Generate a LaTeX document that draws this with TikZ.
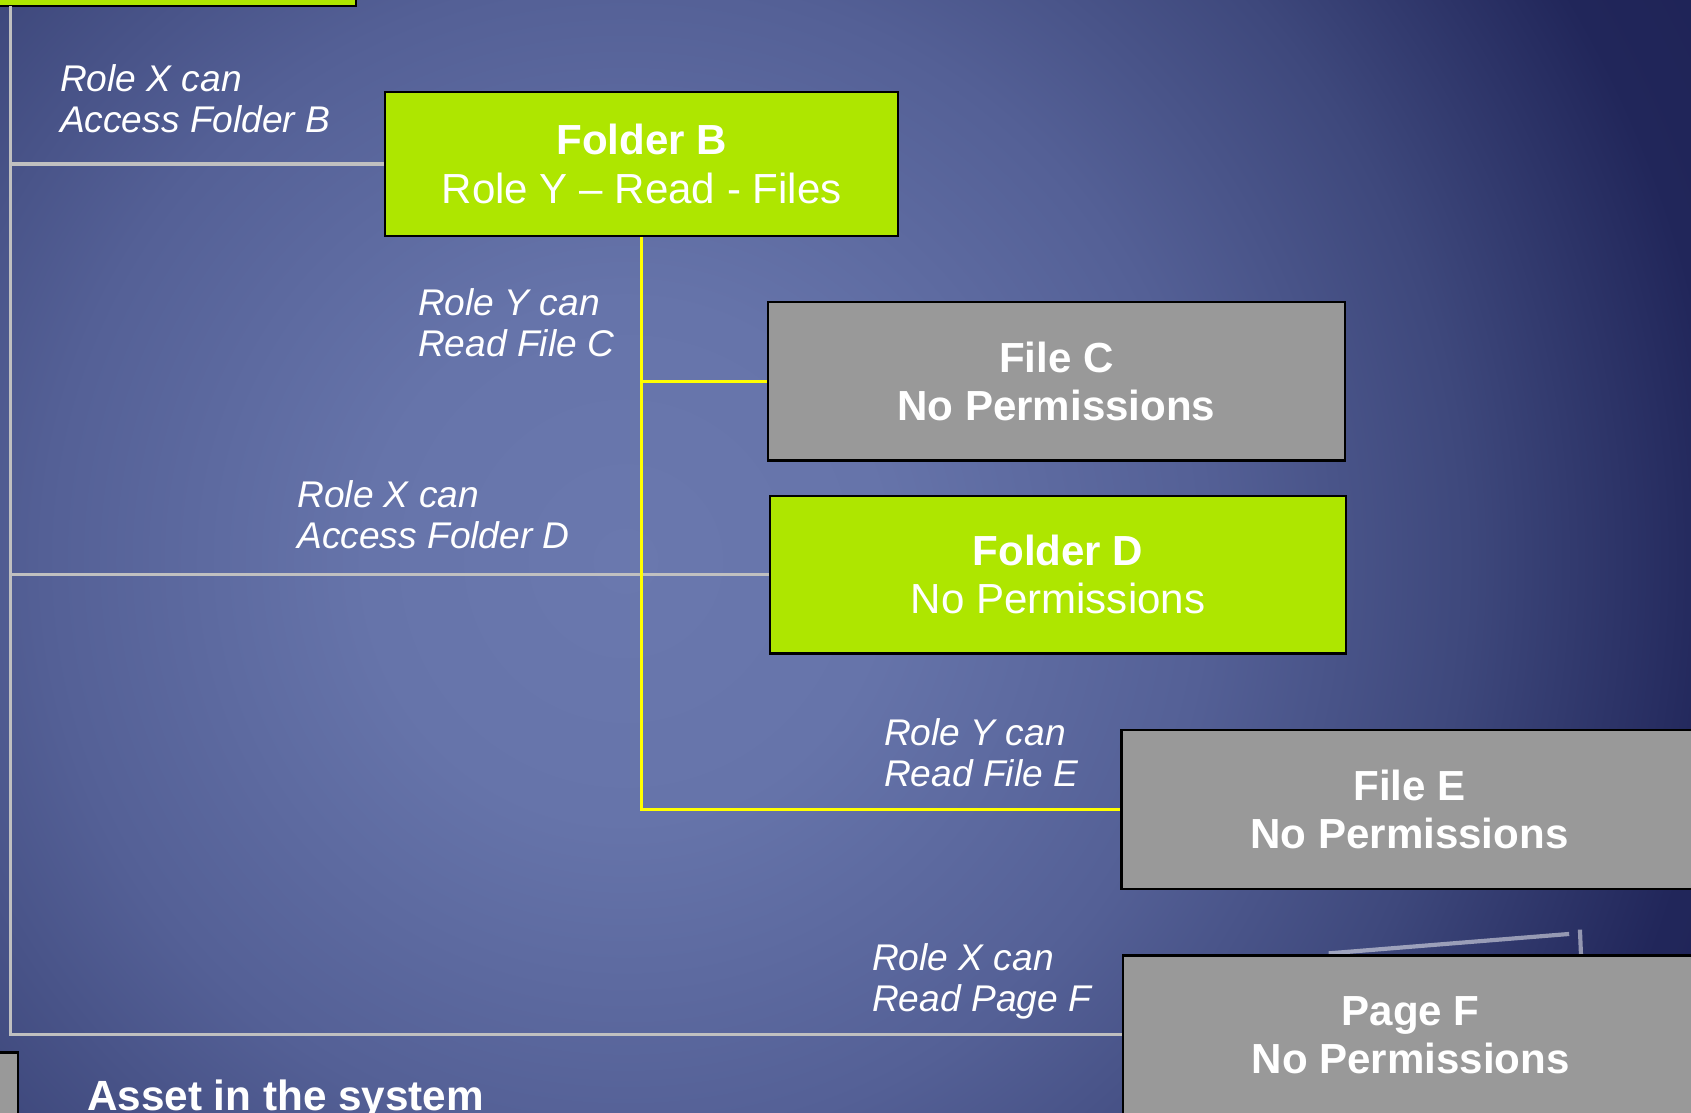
\documentclass[tikz,border=0pt]{standalone}
\usepackage{fontspec}
\setmainfont{Liberation Sans}
\usepackage{xcolor}
\usepackage{tikz}

\definecolor{bglight}{RGB}{106,120,174}
\definecolor{bglighttwo}{RGB}{102,116,170}
\definecolor{bgmid}{RGB}{84,96,150}
\definecolor{bgmidtwo}{RGB}{62,72,124}
\definecolor{bgdark}{RGB}{33,38,90}
\definecolor{bgdeep}{RGB}{26,30,80}
\definecolor{leafgreen}{RGB}{174,230,0}
\definecolor{boxgrey}{RGB}{153,153,153}
\definecolor{linegrey}{RGB}{192,192,192}
\definecolor{readyellow}{RGB}{255,255,0}

\pgfdeclareradialshading{slidebg}{\pgfpoint{0cm}{0cm}}{color(0cm)=(bglight); color(2.4cm)=(bglighttwo); color(5.4cm)=(bgmid); color(7.8cm)=(bgmidtwo); color(10.2cm)=(bgdark); color(14cm)=(bgdeep)}

\tikzset{
	greenbox/.style={draw=black, line width=0.6pt, fill=leafgreen, text=white, inner sep=0, align=center, font=\fontsize{11.1}{12.7}\selectfont},
	greybox/.style={draw=black, line width=0.6pt, fill=boxgrey, text=white, inner sep=0, align=center, font=\bfseries\fontsize{11.1}{12.7}\selectfont},
	rolelabel/.style={text=white, inner sep=0, align=left, anchor=north west, font=\itshape\fontsize{9.8}{10.8}\selectfont},
	accessline/.style={draw=linegrey, line width=0.85pt},
	readline/.style={draw=readyellow, line width=0.85pt}
}

\begin{document}
\begin{tikzpicture}
	% Frame and background:
	\useasboundingbox (0, 0) rectangle (15.68, -10.32);
	\clip (0, 0) rectangle (15.68, -10.32);
	\node[inner sep=0] (Backdrop) at (5.8, -5.2) {\pgfuseshading{slidebg}};
	\draw[white, opacity=0.5, line width=1.1pt] (12.32, -8.84) -- (14.55, -8.66) (14.65, -8.62) -- (14.66, -8.86);

	% Assets:
	\node[greenbox, minimum width=3.6cm, minimum height=0.61cm] (FolderA) at (1.5, 0.25) {};
	\node[greenbox, minimum width=4.76cm, minimum height=1.33cm] (FolderB) at (5.95, -1.52) {\textbf{Folder B}\\Role Y -- Read - Files};
	\node[greybox, minimum width=5.35cm, minimum height=1.47cm] (FileC) at (9.795, -3.535) {File C\\No Permissions};
	\node[greenbox, minimum width=5.34cm, minimum height=1.46cm] (FolderD) at (9.81, -5.33) {\textbf{Folder D}\\No Permissions};
	\node[greybox, minimum width=5.34cm, minimum height=1.47cm] (FileE) at (13.07, -7.505) {File E\\No Permissions};
	\node[greybox, minimum width=5.34cm, minimum height=1.47cm] (PageF) at (13.08, -9.595) {Page F\\No Permissions};

	% Legend:
	\node[greybox, minimum width=0.567cm, minimum height=0.6cm] (AssetKey) at (-0.117, -10.06) {};
	\node[text=white, inner sep=0, anchor=base west, font=\bfseries\fontsize{11.15}{12.7}\selectfont] (AssetText) at (0.8, -10.3) {Asset in the system};

	% Role labels:
	\node[rolelabel] (LabelB) at (0.55, -0.59) {Role X can\\Access Folder B};
	\node[rolelabel] (LabelC) at (3.87, -2.67) {Role Y can\\Read File C};
	\node[rolelabel] (LabelD) at (2.75, -4.45) {Role X can\\Access Folder D};
	\node[rolelabel] (LabelE) at (8.19, -6.66) {Role Y can\\Read File E};
	\node[rolelabel] (LabelF) at (8.08, -8.74) {Role X can\\Read Page F};

	% Role X wires:
	\coordinate (Spine) at (0.096, -0.055);
	\draw[accessline] (Spine) |- (PageF.west);
	\draw[accessline] (Spine |- FolderB.west) -- (FolderB.west);
	\draw[accessline] (Spine |- FolderD.west) -- (FolderD.west);

	% Role Y wires:
	\draw[readline] (FolderB.south) |- (FileE.west);
	\draw[readline] (FolderB.south |- FileC.west) -- (FileC.west);
\end{tikzpicture}
\end{document}
